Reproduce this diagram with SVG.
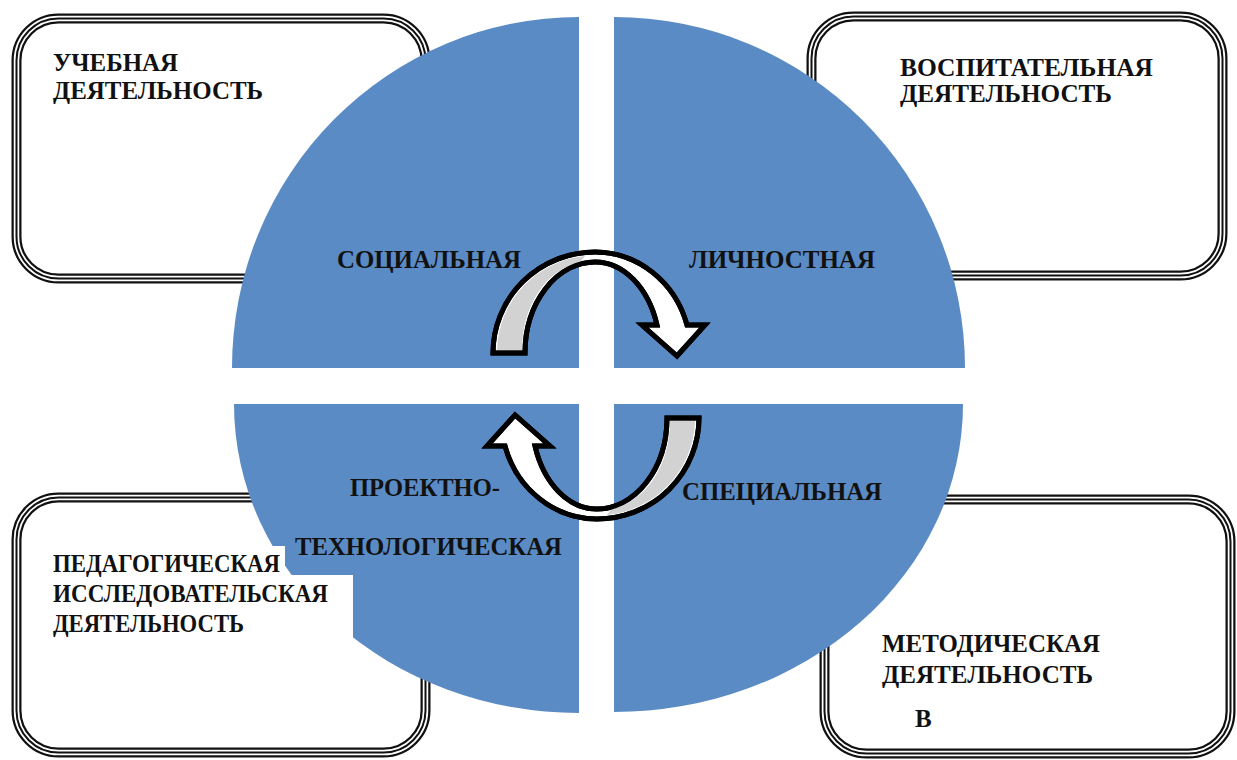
<svg xmlns="http://www.w3.org/2000/svg" xmlns:xlink="http://www.w3.org/1999/xlink" width="1237" height="760" viewBox="0 0 1237 760">
<style>
.f1{fill:#ffffff;stroke:#111;stroke-width:10}
.f2{fill:none;stroke:#ffffff;stroke-width:5.5}
.f3{fill:none;stroke:#111;stroke-width:2}
.q{fill:#5B8BC4}
.t{font-family:"Liberation Serif","DejaVu Serif","Times New Roman",serif;font-weight:bold;font-size:25px;fill:#111}
.arw{fill:#ffffff;stroke:#000;stroke-width:5;stroke-linejoin:miter}
.arg{fill:#d2d2d2}
</style>
<defs>
<g id="arrow">
<path class="arw" d="M 493 353 A 102 101 0 0 1 595 252 A 96 101 0 0 1 687 325 L 705 325 L 677 356 L 642 325 L 657 325 A 65 91 0 0 0 595 262 A 70 91 0 0 0 525 353 Z"/>
<path class="arg" d="M 497 350 A 98 97 0 0 1 585 256 L 580 263 A 66 87 0 0 0 522 350 Z"/>
<path d="M 493 353 A 102 101 0 0 1 595 252 A 96 101 0 0 1 687 325 L 705 325 L 677 356 L 642 325 L 657 325 A 65 91 0 0 0 595 262 A 70 91 0 0 0 525 353 Z" fill="none" stroke="#000" stroke-width="5"/>
</g>
</defs>
<rect width="1237" height="760" fill="#ffffff"/>
<g id="frames">
<g id="frame-uchebnaya"><rect class="f1" x="16.5" y="18.5" width="409" height="260" rx="42"/><rect class="f2" x="16.5" y="18.5" width="409" height="260" rx="42"/><rect class="f3" x="16.5" y="18.5" width="409" height="260" rx="42"/></g>
<g id="frame-vospitatelnaya"><rect class="f1" x="811.5" y="16.5" width="411" height="259" rx="42"/><rect class="f2" x="811.5" y="16.5" width="411" height="259" rx="42"/><rect class="f3" x="811.5" y="16.5" width="411" height="259" rx="42"/></g>
<g id="frame-pedagogicheskaya"><rect class="f1" x="16.5" y="497.5" width="409" height="255" rx="42"/><rect class="f2" x="16.5" y="497.5" width="409" height="255" rx="42"/><rect class="f3" x="16.5" y="497.5" width="409" height="255" rx="42"/></g>
<g id="frame-metodicheskaya"><rect class="f1" x="824.5" y="499.5" width="406" height="254" rx="42"/><rect class="f2" x="824.5" y="499.5" width="406" height="254" rx="42"/><rect class="f3" x="824.5" y="499.5" width="406" height="254" rx="42"/></g>
</g>
<g id="q-socialnaya"><path class="q" d="M 579 368 L 232 368 A 347 351 0 0 1 579 17 Z"/><text class="t" x="337" y="268" textLength="184" lengthAdjust="spacingAndGlyphs">СОЦИАЛЬНАЯ</text></g>
<g id="q-lichnostnaya"><path class="q" d="M 614 368 L 614 17 A 351 351 0 0 1 965 368 Z"/><text class="t" x="689" y="268" textLength="186" lengthAdjust="spacingAndGlyphs">ЛИЧНОСТНАЯ</text></g>
<g id="q-proektno"><path class="q" d="M 579 404 L 579 713 A 345 309 0 0 1 234 404 Z"/><text class="t" x="350" y="496" textLength="150" lengthAdjust="spacingAndGlyphs">ПРОЕКТНО-</text><text class="t" x="295" y="555" textLength="267" lengthAdjust="spacingAndGlyphs">ТЕХНОЛОГИЧЕСКАЯ</text></g>
<g id="q-specialnaya"><path class="q" d="M 614 404 L 963 404 A 349 308 0 0 1 614 712 Z"/><text class="t" x="682" y="500" textLength="200" lengthAdjust="spacingAndGlyphs">СПЕЦИАЛЬНАЯ</text></g>
<g id="connectors">
<use xlink:href="#arrow" href="#arrow"/>
<use xlink:href="#arrow" href="#arrow" transform="rotate(180 596 385.5)"/>
</g>
<g id="node-uchebnaya">
<text class="t" x="53" y="71" textLength="125" lengthAdjust="spacingAndGlyphs">УЧЕБНАЯ</text>
<text class="t" x="53" y="99" textLength="210" lengthAdjust="spacingAndGlyphs">ДЕЯТЕЛЬНОСТЬ</text>
</g>
<g id="node-vospitatelnaya">
<text class="t" x="900" y="76" textLength="253" lengthAdjust="spacingAndGlyphs">ВОСПИТАТЕЛЬНАЯ</text>
<text class="t" x="900" y="102" textLength="212" lengthAdjust="spacingAndGlyphs">ДЕЯТЕЛЬНОСТЬ</text>
</g>
<g id="node-pedagogicheskaya">
<rect x="40" y="546" width="245" height="30" fill="#ffffff"/>
<rect x="40" y="575" width="313" height="80" fill="#ffffff"/>
<text class="t" x="53" y="572" textLength="227" lengthAdjust="spacingAndGlyphs">ПЕДАГОГИЧЕСКАЯ</text>
<text class="t" x="53" y="602" textLength="275" lengthAdjust="spacingAndGlyphs">ИССЛЕДОВАТЕЛЬСКАЯ</text>
<text class="t" x="53" y="632" textLength="191" lengthAdjust="spacingAndGlyphs">ДЕЯТЕЛЬНОСТЬ</text>
</g>
<g id="node-metodicheskaya">
<text class="t" x="882" y="652" textLength="218" lengthAdjust="spacingAndGlyphs">МЕТОДИЧЕСКАЯ</text>
<text class="t" x="882" y="683" textLength="211" lengthAdjust="spacingAndGlyphs">ДЕЯТЕЛЬНОСТЬ</text>
<text class="t" x="915" y="727">В</text>
</g>
</svg>
